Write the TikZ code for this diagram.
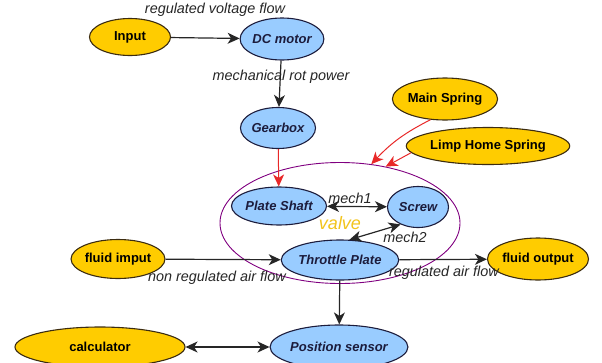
\documentclass[tikz,border=0pt]{standalone}
\usepackage{fontspec}
\setmainfont{Liberation Sans}
\usetikzlibrary{shapes.geometric,arrows.meta}
\definecolor{gold}{HTML}{FFCC00}
\definecolor{sky}{HTML}{99CCFF}
\definecolor{navy}{HTML}{1C1C3C}
\definecolor{rim}{HTML}{3C2C10}
\definecolor{valvecol}{HTML}{800080}
\definecolor{springcol}{HTML}{E82828}
\definecolor{valvetext}{HTML}{F2C41C}
\begin{document}
\begin{tikzpicture}[x=1pt,y=-1pt,>={Stealth[length=12pt,width=11pt,inset=3.5pt]},
	yel/.style={ellipse, draw=rim, fill=gold, line width=1.1pt, inner sep=0pt, font=\fontsize{13}{15}\selectfont\bfseries},
	blu/.style={ellipse, draw=navy, fill=sky, text=navy, line width=1.1pt, inner sep=0pt, font=\fontsize{13}{15}\selectfont\bfseries\itshape},
	lbl/.style={font=\fontsize{14.4}{16}\selectfont\itshape, text=black!85, inner sep=0pt},
	flow/.style={->, draw=black!85, line width=1.2pt},
	spring/.style={->, draw=springcol, line width=1pt}]
	\useasboundingbox (0,0) rectangle (602,362);
	\node (Valve) at (340, 223)	[ellipse, draw=valvecol, line width=0.9pt, minimum width=240, minimum height=121, text=valvetext, font=\fontsize{18}{20}\selectfont\itshape]	{valve};
	\node (In) at (130,  37)	[yel, minimum width=81, minimum height=37]	{Input};
	\node (DC) at (282,  39)	[blu, minimum width=81, minimum height=42]	{DC motor};
	\node (Gear) at (278, 128)	[blu, minimum width=75, minimum height=41]	{Gearbox};
	\node (MainSp) at (445,  99)	[yel, minimum width=96, minimum height=42]	{Main Spring};
	\node (LimpSp) at (488, 146)	[yel, minimum width=149, minimum height=37]	{Limp Home Spring};
	\node (Shaft) at (279, 206)	[blu, minimum width=91, minimum height=38]	{Plate Shaft};
	\node (Screw) at (418, 207)	[blu, minimum width=61, minimum height=41]	{Screw};
	\node (Plate) at (340, 260)	[blu, minimum width=105, minimum height=40]	{Throttle Plate};
	\node (FIn) at (118, 259)	[yel, minimum width=90, minimum height=39]	{fluid imput};
	\node (FOut) at (538, 259)	[yel, minimum width=90, minimum height=42]	{fluid output};
	\node (Calc) at (100, 347)	[yel, minimum width=170, minimum height=40]	{calculator};
	\node (Sensor) at (339, 347)	[blu, minimum width=122, minimum height=44]	{Position sensor};
	% labels
	\node (lVolt) at (215,  10)	[lbl]	{regulated voltage flow};
	\node (lRot) at (281,  77)	[lbl]	{mechanical rot power};
	\node (lMech1) at (350, 198)	[lbl]	{mech1};
	\node (lMech2) at (405, 237)	[lbl]	{mech2};
	\node (lNonReg) at (217, 278)	[lbl]	{non regulated air flow};
	\node (lReg) at (444, 273)	[lbl]	{regulated air flow};
	% connectors
	\draw[flow] (In) -- (DC);
	\draw[flow] (DC) -- (Gear);
	\draw[spring] (Gear) -- (Shaft);
	\draw[spring] (MainSp.235) to[bend right=10] (Valve.62);
	\draw[spring] (LimpSp.185) -- (Valve.51);
	\draw[flow, <->] (Shaft) -- (Screw);
	\draw[flow, <->] (Plate.65) -- (Screw.225);
	\draw[flow] (FIn) -- (Plate);
	\draw[flow] (Plate) -- (FOut);
	\draw[flow] (Plate) -- (Sensor);
	\draw[flow, <->] (Calc) -- (Sensor);
\end{tikzpicture}
\end{document}
